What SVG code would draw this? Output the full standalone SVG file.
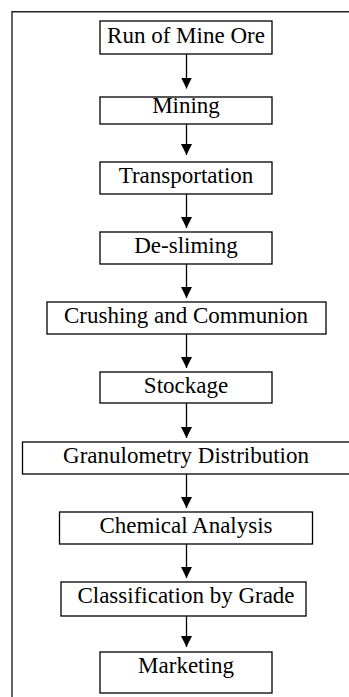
<svg xmlns="http://www.w3.org/2000/svg" width="349" height="697" viewBox="0 0 349 697">
<style>
.box{fill:#fff;stroke:#000;stroke-width:1.3}
.lbl{font-family:"Liberation Serif","Times New Roman",serif;font-size:23px;fill:#000;text-anchor:middle}
.conn{stroke:#000;stroke-width:1.3;fill:none}
.frame{stroke:#222;stroke-width:1.4;fill:none}
</style>
<defs>
<marker id="ah" markerUnits="userSpaceOnUse" markerWidth="12" markerHeight="12" viewBox="0 0 12 12" refX="6" refY="11">
<path d="M0.5,0 L11.5,0 L6,11 z" fill="#000"/>
</marker>
</defs>
<rect width="349" height="697" fill="#fff"/>
<path class="frame" d="M12,700 L12,11.7 L352,11.7"/>
<g id="connectors">
<line class="conn" x1="186.5" y1="54" x2="186.5" y2="88.5" marker-end="url(#ah)"/>
<line class="conn" x1="186.5" y1="124" x2="186.5" y2="155" marker-end="url(#ah)"/>
<line class="conn" x1="186.5" y1="194" x2="186.5" y2="228" marker-end="url(#ah)"/>
<line class="conn" x1="186.5" y1="264" x2="186.5" y2="298" marker-end="url(#ah)"/>
<line class="conn" x1="186.5" y1="334" x2="186.5" y2="368" marker-end="url(#ah)"/>
<line class="conn" x1="186.5" y1="403" x2="186.5" y2="438" marker-end="url(#ah)"/>
<line class="conn" x1="186.5" y1="474" x2="186.5" y2="508" marker-end="url(#ah)"/>
<line class="conn" x1="186.5" y1="544" x2="186.5" y2="578" marker-end="url(#ah)"/>
<line class="conn" x1="186.5" y1="616" x2="186.5" y2="647" marker-end="url(#ah)"/>
</g>
<g id="n1"><rect class="box" x="100" y="21" width="172" height="33"/><text class="lbl" x="186" y="43.3">Run of Mine Ore</text></g>
<g id="n2"><rect class="box" x="100" y="97" width="172" height="27"/><text class="lbl" x="186" y="113.3">Mining</text></g>
<g id="n3"><rect class="box" x="100" y="162" width="172" height="32"/><text class="lbl" x="186" y="183.3">Transportation</text></g>
<g id="n4"><rect class="box" x="100" y="232" width="172" height="32"/><text class="lbl" x="186" y="252.7">De-sliming</text></g>
<g id="n5"><rect class="box" x="47" y="302" width="279" height="32"/><text class="lbl" x="186" y="323.3">Crushing and Communion</text></g>
<g id="n6"><rect class="box" x="100" y="372" width="172" height="31"/><text class="lbl" x="186" y="392.7">Stockage</text></g>
<g id="n7"><rect class="box" x="22.5" y="442" width="340" height="32"/><text class="lbl" x="186" y="463.3">Granulometry Distribution</text></g>
<g id="n8"><rect class="box" x="59.5" y="512" width="253" height="32"/><text class="lbl" x="186" y="532.7">Chemical Analysis</text></g>
<g id="n9"><rect class="box" x="61" y="582" width="245" height="34"/><text class="lbl" x="186" y="602.7">Classification by Grade</text></g>
<g id="n10"><rect class="box" x="100" y="652" width="172" height="41"/><text class="lbl" x="186" y="673.3">Marketing</text></g>
</svg>
